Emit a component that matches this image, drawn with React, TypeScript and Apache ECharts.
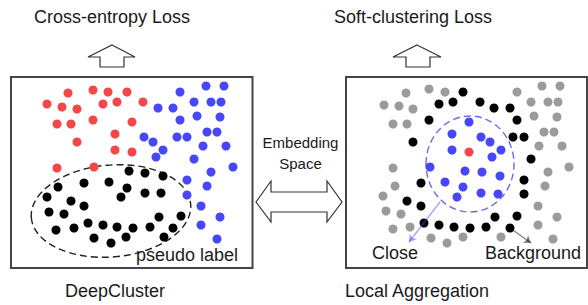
import React, { useEffect, useRef } from "react";
import * as echarts from "echarts";

// Embedding points (x, y in page pixels)
const redLeft = [[68,93],[93,90],[108,92],[127,92],[47,104],[62,107],[77,109],[103,104],[117,102],[143,102],[57,124],[71,124],[93,120],[132,122],[77,142],[115,134],[115,150],[132,152],[57,168],[94,167]];
const blueLeft = [[180,92],[206,86],[224,86],[158,108],[173,108],[194,102],[211,102],[221,102],[180,120],[197,116],[220,117],[144,137],[153,142],[163,150],[156,157],[177,137],[187,137],[207,132],[217,132],[203,146],[226,146],[194,159],[211,172],[233,167],[187,180],[207,186],[187,195],[201,206],[220,217],[201,225],[217,239]];
const blackLeft = [[129,171],[145,173],[163,176],[58,187],[84,183],[109,182],[127,188],[121,197],[145,193],[161,193],[47,197],[71,201],[84,206],[49,212],[64,214],[159,217],[181,216],[56,230],[74,228],[88,223],[103,225],[117,227],[133,228],[150,227],[173,228],[94,238],[111,243],[126,237],[164,237]];
const grayRight = [[406,93],[429,89],[445,92],[384,105],[399,106],[413,109],[393,124],[407,124],[517,92],[542,86],[560,86],[531,102],[548,102],[558,102],[534,116],[557,117],[544,132],[554,132],[539,146],[562,146],[548,172],[569,167],[545,186],[393,168],[395,186],[383,196],[386,211],[401,214],[393,229],[410,227],[431,238],[447,243],[463,237],[501,237],[538,206],[557,217],[538,225],[553,239]];
const blackRight = [[463,92],[439,104],[453,102],[480,102],[494,108],[510,108],[429,120],[517,120],[513,137],[524,137],[413,142],[531,159],[421,183],[524,180],[524,194],[407,201],[421,206],[424,223],[439,225],[454,227],[470,228],[486,227],[495,217],[517,216],[510,228]];
const blueRight = [[469,122],[452,134],[481,137],[490,142],[452,150],[501,150],[492,157],[430,167],[465,171],[482,172],[500,176],[445,182],[463,187],[457,197],[481,193],[498,194]];
const redRight = [[469,152]];

const closeArrow = [[440,202],[409,242]];
const backgroundArrow = [[510,228],[531,243]];

const titles = ["Cross-entropy Loss", "Soft-clustering Loss"];
const captions = ["DeepCluster", "Local Aggregation"];
const middleLabel = ["Embedding", "Space"];

const FONT = '"Liberation Sans", Arial, Helvetica, sans-serif';
const RED = "#f44848";
const BLUE = "#4747f7";
const BLACK = "#000000";
const GRAY = "#9b9b9b";

function txt(text: string, x: number, y: number, size: number) {
  return {
    type: "text",
    z: 5,
    style: {
      text,
      x,
      y,
      fill: "#1a1a1a",
      font: `${size}px ${FONT}`,
      textAlign: "center",
      textVerticalAlign: "middle",
      align: "center",
      verticalAlign: "middle",
    },
  };
}

function dots(data: number[][], color: string) {
  return {
    type: "scatter",
    data,
    symbol: "circle",
    symbolSize: 9,
    itemStyle: { color, opacity: 1 },
    silent: true,
    z: 3,
  };
}

export default function App() {
  const ref = useRef<HTMLDivElement>(null);
  useEffect(() => {
    document.body.style.margin = "0";
    const chart = echarts.init(ref.current!, null, { renderer: "svg" });
    const arrowStyle = { fill: "#ffffff", stroke: "#333333", lineWidth: 1.2 };
    chart.setOption({
      animation: false,
      backgroundColor: "#ffffff",
      grid: { left: 0, right: 0, top: 0, bottom: 0 },
      xAxis: { type: "value", min: 0, max: 588, show: false },
      yAxis: { type: "value", min: 0, max: 305, inverse: true, show: false },
      series: [
        dots(redLeft, RED),
        dots(blueLeft, BLUE),
        dots(blackLeft, BLACK),
        dots(grayRight, GRAY),
        dots(blackRight, BLACK),
        dots(blueRight, BLUE),
        dots(redRight, RED),
        {
          type: "lines",
          coordinateSystem: "cartesian2d",
          symbol: ["none", "arrow"],
          symbolSize: 7,
          silent: true,
          z: 4,
          data: [
            { coords: closeArrow, lineStyle: { color: "#4a4af0", width: 1.3 } },
            { coords: backgroundArrow, lineStyle: { color: "#000000", width: 1.3 } },
          ],
        },
      ],
      graphic: [
        { type: "rect", shape: { x: 11, y: 77, width: 241.5, height: 191 }, style: { fill: "none", stroke: "#444444", lineWidth: 2 } },
        { type: "rect", shape: { x: 346, y: 77, width: 241, height: 191 }, style: { fill: "none", stroke: "#444444", lineWidth: 2 } },
        {
          type: "polygon",
          shape: { points: [[112,45],[135,57],[124,57],[124,67],[100,67],[100,57],[88,57]] },
          style: arrowStyle,
        },
        {
          type: "polygon",
          shape: { points: [[417,45],[441,57],[430,57],[430,67],[406,67],[406,57],[393,57]] },
          style: arrowStyle,
        },
        {
          type: "polygon",
          shape: { points: [[256,202],[271,181],[271,192],[327,192],[327,181],[342,202],[327,222],[327,212],[271,212],[271,222]] },
          style: arrowStyle,
        },
        {
          type: "ellipse",
          x: 111,
          y: 211,
          rotation: 0.085,
          shape: { cx: 0, cy: 0, rx: 80, ry: 46 },
          style: { fill: "none", stroke: "#222222", lineWidth: 1.4, lineDash: [7, 4] },
        },
        {
          type: "ellipse",
          shape: { cx: 470, cy: 164, rx: 44, ry: 48 },
          style: { fill: "none", stroke: "#6a6af0", lineWidth: 1.4, lineDash: [7, 4] },
        },
        txt(titles[0], 112, 17, 18),
        txt(titles[1], 413, 17, 18),
        txt(captions[0], 115, 291, 18),
        txt(captions[1], 417, 291, 18),
        txt(middleLabel[0], 300.5, 142, 15),
        txt(middleLabel[1], 300.5, 163, 15),
        txt("pseudo label", 187, 255, 18),
        txt("Close", 395, 253, 18),
        txt("Background", 533, 253, 18),
      ],
    });
    return () => chart.dispose();
  }, []);
  return <div ref={ref} style={{ width: 588, height: 305 }} />;
}
